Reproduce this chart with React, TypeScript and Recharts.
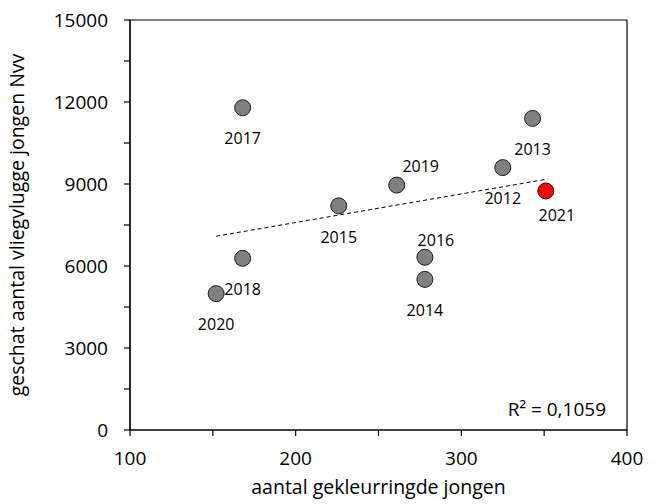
import {
  ScatterChart,
  Scatter,
  XAxis,
  YAxis,
  ReferenceLine,
  ReferenceArea,
  ReferenceDot,
  Cell,
} from "recharts";

const years = ["2012", "2013", "2014", "2015", "2016", "2017", "2018", "2019", "2020", "2021"];
const ringedYoung = [325, 343, 278, 226, 278, 168, 168, 261, 152, 351];
const fledgedYoung = [9600, 11400, 5510, 8200, 6320, 11790, 6280, 8960, 4990, 8745];

const trendX = [152, 351];
const trendY = [7090, 9170];

const xTicks = [100, 150, 200, 250, 300, 350, 400];
const yTicks = [0, 1500, 3000, 4500, 6000, 7500, 9000, 10500, 12000, 13500, 15000];

const highlightYear = "2021";
const rSquaredText = "R² = 0,1059";

const points = years.map((year, i) => ({
  year,
  x: ringedYoung[i],
  y: fledgedYoung[i],
}));

// where each year label sits relative to its dot (text centre)
const defaultOffset: [number, number] = [0, 31];
const labelOffset: Record<string, [number, number]> = {
  "2021": [11, 24],
  "2019": [24, -19],
  "2016": [11, -17],
};

const FONT = "'Open Sans', sans-serif";

const Dot = (props: any) => {
  const { cx, cy, payload, fill } = props;
  const [dx, dy] = labelOffset[payload.year] || defaultOffset;
  return (
    <g>
      <circle cx={cx} cy={cy} r={8} fill={fill} stroke="#1a1a1a" strokeWidth={1} />
      <text
        x={cx + dx}
        y={cy + dy + 5.7}
        textAnchor="middle"
        fontSize={16}
        fontFamily={FONT}
        fill="#000"
      >
        {payload.year}
      </text>
    </g>
  );
};

const App = () => {
  return (
    <div style={{ position: "absolute", left: 0, top: 0 }}>
      <ScatterChart
        width={657}
        height={504}
        margin={{ top: 20, right: 30, left: 0, bottom: 0 }}
      >
        <XAxis
          type="number"
          dataKey="x"
          domain={[100, 400]}
          ticks={xTicks}
          interval={0}
          tickFormatter={(v: number) => (v % 100 === 0 ? String(v) : "")}
          height={74}
          tickSize={6}
          tickMargin={16}
          axisLine={{ stroke: "#000", strokeWidth: 1.2 }}
          tickLine={{ stroke: "#000", strokeWidth: 1.2 }}
          tick={{ fill: "#000", fontSize: 19, fontFamily: FONT }}
          allowDataOverflow
          label={(p: any) => {
            const vb = p.viewBox;
            return (
              <text
                x={vb.x + vb.width / 2}
                y={494}
                textAnchor="middle"
                fontSize={19.5}
                fontFamily={FONT}
                fill="#000"
              >
                aantal gekleurringde jongen
              </text>
            );
          }}
        />
        <YAxis
          type="number"
          dataKey="y"
          domain={[0, 15000]}
          ticks={yTicks}
          interval={0}
          tickFormatter={(v: number) => (v % 3000 === 0 ? String(v) : "")}
          width={130}
          tickSize={6}
          tickMargin={16}
          axisLine={{ stroke: "#000", strokeWidth: 1.2 }}
          tickLine={{ stroke: "#000", strokeWidth: 1.2 }}
          tick={{ fill: "#000", fontSize: 19, fontFamily: FONT }}
          allowDataOverflow
          label={(p: any) => {
            const vb = p.viewBox;
            const cx = 24;
            const cy = vb.y + vb.height / 2;
            return (
              <text
                x={cx}
                y={cy}
                transform={`rotate(-90, ${cx}, ${cy})`}
                textAnchor="middle"
                fontSize={19.5}
                fontFamily={FONT}
                fill="#000"
              >
                geschat aantal vliegvlugge jongen Nvv
              </text>
            );
          }}
        />
        <ReferenceArea
          x1={100}
          x2={400}
          y1={0}
          y2={15000}
          fill="none"
          fillOpacity={0}
          stroke="#000"
          strokeWidth={1.2}
        />
        <ReferenceLine
          segment={[
            { x: trendX[0], y: trendY[0] },
            { x: trendX[1], y: trendY[1] },
          ]}
          stroke="#000"
          strokeWidth={1}
          strokeDasharray="4 3"
        />
        <Scatter data={points} shape={<Dot />} isAnimationActive={false}>
          {points.map((p, i) => (
            <Cell key={`cell-${i}`} fill={p.year === highlightYear ? "#ff0000" : "#808080"} />
          ))}
        </Scatter>
        <ReferenceDot
          x={400}
          y={0}
          r={0}
          fill="none"
          stroke="none"
          label={(p: any) => {
            const vb = p.viewBox;
            return (
              <text
                x={vb.x - 21}
                y={vb.y - 14.3}
                textAnchor="end"
                fontSize={19}
                fontFamily={FONT}
                fill="#000"
              >
                {rSquaredText}
              </text>
            );
          }}
        />
      </ScatterChart>
    </div>
  );
};

export default App;
